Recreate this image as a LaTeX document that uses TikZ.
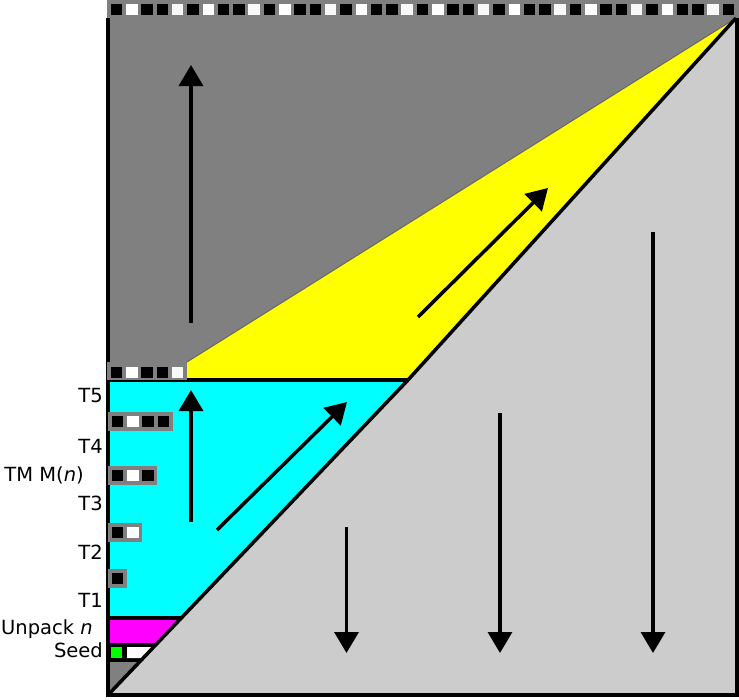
\documentclass[tikz,border=0pt]{standalone}
\usepackage{fontspec}
\setmainfont{DejaVu Sans}
\usetikzlibrary{arrows.meta}
\definecolor{dgray}{HTML}{808080}
\definecolor{lgray}{HTML}{CCCCCC}
\definecolor{cyanc}{HTML}{00FFFF}
\definecolor{yellowc}{HTML}{FFFF00}
\definecolor{magentac}{HTML}{FF00FF}
\definecolor{greenc}{HTML}{00FF00}
\definecolor{offwhite}{HTML}{F8F8F8}
\tikzset{
  border/.style={line width=3.5pt, line join=miter},
  flow/.style={line width=3.5pt, -{Triangle[length=21pt,width=24pt]}},
  lab/.style={inner sep=0pt, font=\fontsize{19.5}{22}\selectfont},
  cellB/.style={fill=black},
  cellW/.style={fill=white},
  cellL/.style={fill=offwhite},
  tapebg/.style={fill=dgray},
}
\newcommand{\tapecells}[3]{% #1 x0, #2 y0 (top of square), #3 count
  \foreach \k in {1,...,#3}{
    \pgfmathtruncatemacro{\m}{mod(\k-1,5)}
    \pgfmathsetmacro{\xx}{#1+15.3*(\k-1)}
    \ifnum\m=1 \def\cst{cellW}\else\ifnum\m=4 \def\cst{cellL}\else\def\cst{cellB}\fi\fi
    \path[\cst] (\xx,#2) rectangle ++(11.5,11.5);
  }
}
\begin{document}
\begin{tikzpicture}[x=1pt,y=-1pt]
\useasboundingbox (0,0) rectangle (739,699);
% coordinates
\coordinate (BL) at (108,695);
\coordinate (BR) at (737,695);
\coordinate (TR) at (736,18);
\coordinate (D1) at (408,380);
\coordinate (Y1) at (187,362);
% dark gray upper area (incl. top bar)
\fill[dgray] (107,0) rectangle (739,380);
% yellow
\fill[yellowc] (Y1) -- (TR) -- (D1) -- (187,380) -- cycle;
\draw[line width=1pt, color=dgray!80!black] (Y1) -- (TR);
% light gray triangle
\fill[lgray] (BL) -- (D1) -- (TR) -- (737,18) -- (BR) -- cycle;
% cyan
\fill[cyanc] (108,380) -- (D1) -- (181.3,618) -- (108,618) -- cycle;
% magenta
\fill[magentac] (108,618) -- (181.3,618) -- (157.5,643) -- (108,643) -- cycle;
% seed strip
\fill[black] (108,643) -- (157.5,643) -- (139.4,662) -- (108,662) -- cycle;
\fill[greenc] (111,647) rectangle (122,658);
\fill[white] (127,647) -- (153.7,647) -- (143.2,658) -- (127,658) -- cycle;
% small dark triangle
\fill[dgray] (108,662) -- (139.4,662) -- (BL) -- cycle;
% borders
\draw[border] (108,18) -- (BL) -- (BR) -- (737,18);
\draw[border] (BL) -- (D1) -- (TR);
\draw[border] (108,380) -- (D1);
\draw[border] (108,618) -- (181.3,618);
% top bar
\tapecells{110.7}{3.5}{41}
% middle bar
\fill[tapebg] (107,362) rectangle (187,380);
\tapecells{110.7}{366.5}{5}
% tape rows
\fill[tapebg] (108,412) rectangle (173,431);
\tapecells{111.7}{415.8}{4}
\fill[tapebg] (108,466) rectangle (157,485);
\tapecells{111.7}{469.8}{3}
\fill[tapebg] (108,523) rectangle (142,542);
\tapecells{111.7}{526.8}{2}
\fill[tapebg] (108,569) rectangle (127,588);
\tapecells{111.7}{572.8}{1}
% arrows
\coordinate (a1s) at (191,323); \coordinate (a1e) at (191,65);
\coordinate (a2s) at (418,317); \coordinate (a2e) at (548,188);
\coordinate (a3s) at (191,522); \coordinate (a3e) at (191,390);
\coordinate (a4s) at (217,530); \coordinate (a4e) at (347,402);
\coordinate (a5s) at (346.5,527); \coordinate (a5e) at (346.5,653);
\coordinate (a6s) at (500,413); \coordinate (a6e) at (500,653);
\coordinate (a7s) at (653,232); \coordinate (a7e) at (653,653);
\draw[flow] (a1s) -- (a1e);
\draw[flow] (a2s) -- (a2e);
\draw[flow] (a3s) -- (a3e);
\draw[flow] (a4s) -- (a4e);
\draw[flow] (a5s) -- (a5e);
\draw[flow] (a6s) -- (a6e);
\draw[flow] (a7s) -- (a7e);
% labels
\node[lab, anchor=east] (t5) at (103,396) {T5};
\node[lab, anchor=east] (t4) at (103,446) {T4};
\node[lab, anchor=east] (tm) at (84,475) {TM M(\textit{n})};
\node[lab, anchor=east] (t3) at (103,503) {T3};
\node[lab, anchor=east] (t2) at (103,552) {T2};
\node[lab, anchor=east] (t1) at (103,600) {T1};
\node[lab, anchor=west] (up) at (1,629) {Unpack \textit{n}};
\node[lab, anchor=east] (sd) at (103,650) {Seed};
\end{tikzpicture}
\end{document}
